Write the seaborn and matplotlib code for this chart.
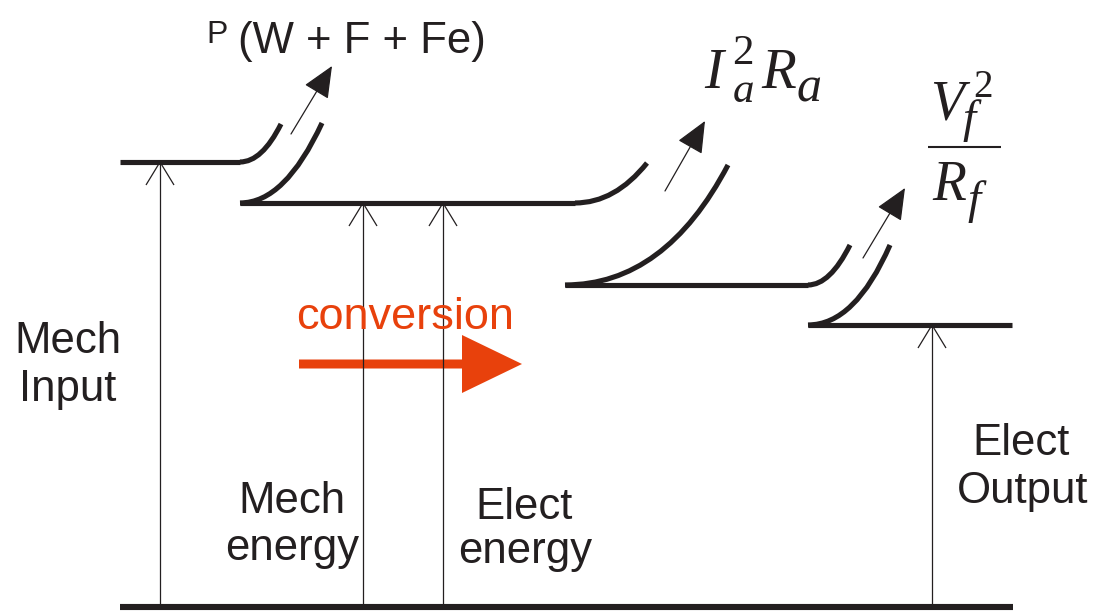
import matplotlib
matplotlib.use('Agg')
import matplotlib.pyplot as plt
import seaborn as sns
import pandas as pd
from matplotlib.path import Path
from matplotlib.patches import PathPatch

sns.set_style('white')
plt.rcParams['font.family'] = ['Liberation Sans', 'DejaVu Sans']
plt.rcParams['lines.solid_capstyle'] = 'butt'
plt.rcParams['mathtext.fontset'] = 'custom'
plt.rcParams['mathtext.it'] = 'Liberation Serif:italic'
plt.rcParams['mathtext.rm'] = 'Liberation Serif'

INK = '#231f20'
ORANGE = '#e8410c'
SERIF = 'Liberation Serif'

# power levels of the flow diagram (diagram units, y grows downward)
level_names = ['input', 'mech', 'elect', 'output']
level_y = [162, 203, 285, 325]
level_x0 = [120, 240, 565, 808]
level_x1 = [240, 575, 808, 1012]
base_x = [120, 1013]
base_y = 607

# thin upward arrows from the baseline to each level
up_x = [160, 363, 443, 932]
up_top = [162, 203, 203, 325]

# loss branches: start, control, end of each bend
bend_start = [(240, 162), (240, 203), (575, 203), (565, 285), (808, 285), (808, 325)]
bend_ctrl = [(262, 162), (285, 203), (615, 203), (665, 285), (830, 285), (855, 325)]
bend_end = [(281, 124), (322, 123), (647, 163), (728, 165), (850, 245), (890, 245)]

# loss arrows: tail -> tip
loss_tail = [(291, 134), (665, 191), (863, 258)]
loss_tip = [(332, 66), (705, 121), (905, 188)]

# label lines (text, centre x, baseline y)
labels = [('Mech', 68, 353), ('Input', 68, 401),
          ('Mech', 292, 513), ('energy', 292, 560),
          ('Elect', 524, 519), ('energy', 525, 563),
          ('Elect', 1021, 455), ('Output', 1023, 503)]

# italic formula pieces (text, x, baseline, size, italic)
formula = [('I', 704, 88, 41, True),
           ('R', 761, 88, 41, True), ('a', 797, 102, 36, True),
           ('V', 930, 120, 40, True), ('f', 962, 132, 34, True), ('2', 973, 97, 28, False),
           ('R', 932, 200, 40, True), ('f', 967, 213, 34, True)]

fig = plt.figure(figsize=(10.99, 6.16), dpi=100)
ax = fig.add_axes([0, 0, 1, 1])

# thick level lines
lv = pd.DataFrame({
    'x': level_x0 + level_x1,
    'y': level_y + level_y,
    'seg': level_names + level_names,
})
sns.lineplot(data=lv, x='x', y='y', units='seg', estimator=None, sort=False,
             color=INK, lw=3.7, ax=ax, legend=False)
sns.lineplot(x=base_x, y=[base_y, base_y], color=INK, lw=4.4, ax=ax,
             estimator=None, sort=False)

# thin verticals with open chevron heads
rows = []
for i, (x, top) in enumerate(zip(up_x, up_top)):
    rows += [(x, base_y, f'v{i}'), (x, top, f'v{i}')]
    rows += [(x - 14, top + 23, f'c{i}'), (x, top, f'c{i}'), (x + 14, top + 23, f'c{i}')]
th = pd.DataFrame(rows, columns=['x', 'y', 'seg'])
sns.lineplot(data=th, x='x', y='y', units='seg', estimator=None, sort=False,
             color=INK, lw=0.9, ax=ax, legend=False)

# bends
for s, c, e in zip(bend_start, bend_ctrl, bend_end):
    p = Path([s, c, e], [Path.MOVETO, Path.CURVE3, Path.CURVE3])
    ax.add_patch(PathPatch(p, fill=False, ec=INK, lw=3.7, capstyle='butt'))

# loss arrows
for t, h in zip(loss_tail, loss_tip):
    ax.annotate('', xy=h, xytext=t,
                arrowprops=dict(arrowstyle='-|>,head_length=0.5,head_width=0.22',
                                mutation_scale=40, lw=0.9, color=INK,
                                shrinkA=0, shrinkB=0))

# conversion arrow
ax.arrow(299, 364, 223, 0, width=9, head_width=58, head_length=60,
         length_includes_head=True, color=ORANGE, lw=0)
ax.text(296, 329, 'conversion', color=ORANGE, fontsize=32.5, va='baseline', ha='left')

for txt, x, y in labels:
    ax.text(x, y, txt, fontsize=31.5, ha='center', va='baseline', color=INK)

ax.text(206, 43, 'P', fontsize=23, ha='left', va='baseline', color=INK)
ax.text(238, 53, '(W + F + Fe)', fontsize=31.5, ha='left', va='baseline', color=INK)

for txt, x, y, size, it in formula:
    ax.text(x, y, txt, fontsize=size, family=SERIF, style='italic' if it else 'normal',
            ha='left', va='baseline', color=INK)
# stacked superscript / subscript of I
ax.text(732, 102, '2\n$a$', fontsize=31, family=SERIF, ha='left', va='baseline',
        linespacing=1.0, color=INK)
ax.plot([928, 1001], [147, 147], color=INK, lw=1.5)

ax.set_xlim(0, 1099)
ax.set_ylim(616, 0)
ax.axis('off')
fig.savefig('out.png', dpi=100, facecolor='white')
